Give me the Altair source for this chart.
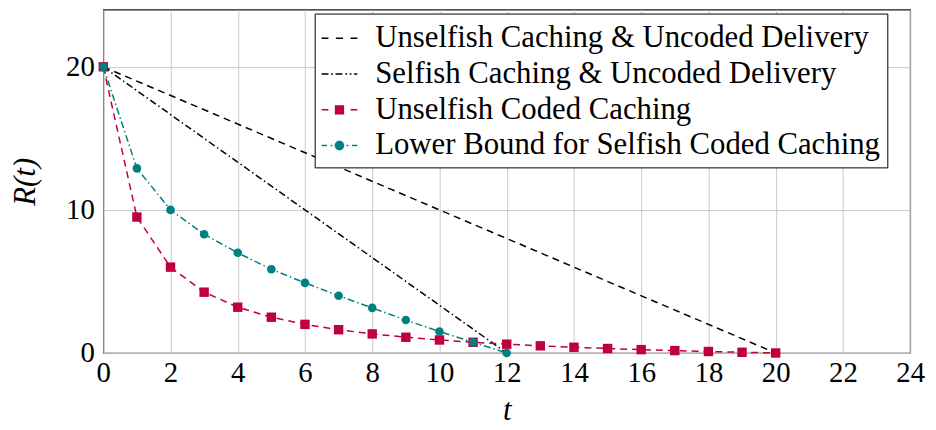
import altair as alt
import pandas as pd

# ---------------- data ----------------
series_names = [
    "Unselfish Caching & Uncoded Delivery",
    "Selfish Caching & Uncoded Delivery",
    "Unselfish Coded Caching",
    "Lower Bound for Selfish Coded Caching",
]
series_colors = ["#000000", "#000000", "#C0003C", "#008080"]
series_dashes = [[7, 5], [7, 3, 1.5, 3], [7, 5], [7, 3, 1.5, 3]]

t_unc = [0, 20]
r_unc = [20, 0]

t_self = [0, 12]
r_self = [20, 0]

t_coded = [0, 1, 2, 3, 4, 5, 6, 7, 8, 9, 10, 11, 12, 13, 14, 15, 16, 17, 18, 19, 20]
r_coded = [20, 9.5, 6.0, 4.25, 3.2, 2.5, 2.0, 1.625, 1.333, 1.1, 0.909, 0.75,
           0.615, 0.5, 0.4, 0.3125, 0.235, 0.167, 0.105, 0.05, 0]

t_lb = [0, 1, 2, 3, 4, 5, 6, 7, 8, 9, 10, 11, 12]
r_lb = [20, 12.9, 10.0, 8.3, 7.0, 5.85, 4.9, 4.0, 3.15, 2.3, 1.5, 0.75, 0]

x_ticks = [0, 2, 4, 6, 8, 10, 12, 14, 16, 18, 20, 22, 24]
y_ticks = [0, 10, 20]

rows = []
for name, ts, rs in zip(series_names, [t_unc, t_self, t_coded, t_lb],
                        [r_unc, r_self, r_coded, r_lb]):
    for t, r in zip(ts, rs):
        rows.append({"series": name, "t": t, "R": r})
df = pd.DataFrame(rows)

# ---------------- legend symbol paths (unit coords, 1 unit = 18px) ----------------
U = 18.0
h = 0.75 / U  # half line thickness


def seg(a, b):
    return f"M{a:.3f},{-h:.3f}H{b:.3f}V{h:.3f}H{a:.3f}Z"


def dot(c):
    w = 0.9 / U
    return seg(c - w, c + w)


def square(c, s=4.7 / U):
    return f"M{c - s:.3f},{-s:.3f}H{c + s:.3f}V{s:.3f}H{c - s:.3f}Z"


def circle(c, r=4.8 / U):
    return (f"M{c - r:.3f},0A{r:.3f},{r:.3f},0,1,0,{c + r:.3f},0"
            f"A{r:.3f},{r:.3f},0,1,0,{c - r:.3f},0Z")


p_dashed = seg(-1, -0.62) + seg(-0.2, 0.2) + seg(0.62, 1)
p_dashdot = seg(-1, -0.62) + dot(-0.42) + seg(-0.22, 0.16) + dot(0.38) + dot(0.62) + seg(0.82, 1)
p_coded = seg(-1, -0.62) + square(0) + seg(0.62, 1)
p_lb = seg(-1, -0.7) + dot(-0.45) + circle(0) + dot(0.45) + seg(0.7, 1)
legend_paths = [p_dashed, p_dashdot, p_coded, p_lb]

# ---------------- chart ----------------
FONT = "Liberation Serif"

x = alt.X("t:Q", scale=alt.Scale(domain=[0, 24], nice=False),
          axis=alt.Axis(values=x_ticks, title="t", labelPadding=6, titlePadding=8,
                        labelFlush=False, labelFont=FONT, titleFont=FONT))
y = alt.Y("R:Q", scale=alt.Scale(domain=[0, 24], nice=False),
          axis=alt.Axis(values=y_ticks, title="R(t)", labelPadding=9, titlePadding=24,
                        labelFlush=False, labelFont=FONT, titleFont=FONT))


def line_layer(i):
    return alt.Chart(df).transform_filter(
        alt.datum.series == series_names[i]
    ).mark_line(strokeWidth=1.5, color=series_colors[i], strokeDash=series_dashes[i]).encode(
        x=x, y=y, order="t:Q")


squares = alt.Chart(df).transform_filter(
    alt.datum.series == series_names[2]
).mark_point(shape="square", filled=True, size=90, opacity=1, color=series_colors[2]).encode(x=x, y=y)

circles = alt.Chart(df).transform_filter(
    alt.datum.series == series_names[3]
).mark_point(shape="circle", filled=True, size=75, opacity=1, color=series_colors[3]).encode(x=x, y=y)

leg_props = dict(title=None, orient="none", legendX=213, legendY=4,
                 symbolSize=1296, symbolStrokeWidth=0, symbolOpacity=1,
                 labelFont=FONT, labelFontSize=31, labelColor="black",
                 labelOffset=18, labelLimit=0, padding=7, rowPadding=3,
                 strokeColor="black", fillColor="white", cornerRadius=0)

legend_layer = alt.Chart(df).mark_point(filled=True, size=0, strokeWidth=0).encode(
    x=x, y=y,
    color=alt.Color("series:N", scale=alt.Scale(domain=series_names, range=series_colors),
                    legend=alt.Legend(**leg_props)),
    shape=alt.Shape("series:N", scale=alt.Scale(domain=series_names, range=legend_paths),
                    legend=alt.Legend(**leg_props)),
)

chart = alt.layer(
    line_layer(0), line_layer(1), line_layer(2), squares, line_layer(3), circles, legend_layer
).properties(
    width=813, height=346,
    autosize=alt.AutoSizeParams(type="none"),
    padding={"left": 96, "top": 0, "right": 18, "bottom": 76},
).configure(
    font=FONT
).configure_view(
    stroke="#1a1a1a", strokeWidth=1.2
).configure_legend(
    labelFont=FONT
).configure_axis(
    labelFont=FONT, labelFontSize=29, labelColor="black",
    titleFont=FONT, titleFontSize=31, titleFontStyle="italic", titleFontWeight="normal",
    titleColor="black",
    grid=True, gridColor="#c4c4c4", gridWidth=0.9,
    domain=False, ticks=False,
)

chart.save("out.html", embed_options={"renderer": "svg", "actions": False})
